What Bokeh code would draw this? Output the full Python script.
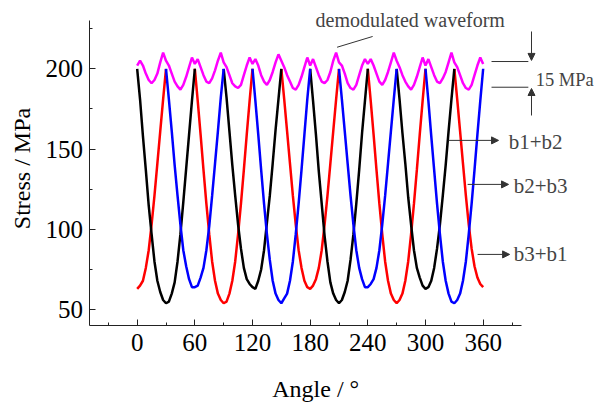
import math
from bokeh.plotting import figure
from bokeh.models import Arrow, NormalHead, Label, FixedTicker
from bokeh.embed import file_html
from bokeh.resources import INLINE

# ---------------- data ----------------
STEP = 3  # degrees between readings

# each curve = list of V-shaped windows: (start angle, stress readings every 3 deg)
BLACK_STARTS = [0, 90, 180, 270]
BLACK_VALUES = [
    [200, 181, 158, 137, 115, 97, 80, 68, 61, 56, 54, 55, 60, 67, 80, 97, 117, 138, 159, 180, 200],
    [200, 182, 161, 140, 121, 103, 88, 76, 69, 66, 64, 63, 68, 75, 87, 104, 121, 141, 162, 181, 200],
    [200, 180, 159, 136, 116, 96, 80, 67, 60, 56, 54, 56, 61, 68, 81, 97, 116, 137, 160, 180, 200],
    [200, 181, 160, 141, 120, 103, 87, 76, 70, 65, 63, 64, 68, 76, 88, 103, 121, 140, 161, 181, 200],
]
BLUE_STARTS = [30, 120, 210, 300]
BLUE_VALUES = [
    [200, 181, 161, 140, 121, 103, 87, 77, 69, 64, 64, 65, 70, 76, 87, 102, 121, 141, 161, 182, 200],
    [200, 180, 159, 137, 116, 97, 81, 68, 60, 56, 54, 57, 60, 68, 80, 97, 116, 137, 159, 181, 200],
    [200, 181, 161, 141, 121, 103, 87, 76, 69, 64, 64, 66, 69, 76, 87, 103, 121, 141, 161, 181, 200],
    [200, 180, 158, 137, 116, 97, 80, 68, 60, 55, 54, 56, 60, 68, 80, 97, 116, 137, 159, 180, 200],
]
RED_STARTS = [0, 60, 150, 240, 330]
RED_VALUES = [
    [63, 65, 68, 76, 87, 103, 121, 141, 161, 181, 200],
    [200, 180, 159, 137, 116, 97, 80, 68, 60, 56, 54, 55, 60, 68, 80, 97, 116, 137, 159, 180, 200],
    [200, 181, 161, 141, 121, 103, 87, 76, 68, 64, 63, 65, 69, 76, 87, 103, 121, 141, 161, 181, 200],
    [200, 180, 159, 137, 116, 97, 80, 68, 60, 56, 54, 56, 60, 68, 80, 97, 116, 137, 159, 180, 200],
    [200, 181, 161, 141, 121, 103, 88, 77, 70, 66, 64],
]

# demodulated waveform, every 3 deg from 0 to 360
PINK_VALUES = [
    202, 205, 202, 197, 193, 191, 193, 197, 204, 210, 205, 202, 197, 192, 189, 187, 190, 195, 201, 207,
    203, 206, 201, 196, 192, 191, 194, 199, 205, 210, 204, 201, 196, 191, 189, 188, 190, 196, 202, 207,
    203, 206, 202, 196, 192, 190, 193, 198, 204, 209, 205, 201, 196, 192, 188, 187, 190, 195, 201, 207,
    202, 206, 201, 196, 192, 191, 193, 198, 205, 210, 204, 202, 197, 191, 188, 187, 190, 196, 202, 206,
    203, 206, 202, 197, 192, 190, 193, 198, 204, 210, 205, 201, 196, 192, 189, 187, 190, 195, 201, 207,
    202, 206, 201, 196, 192, 191, 194, 198, 204, 210, 204, 201, 196, 191, 188, 187, 190, 196, 202, 207,
    203,
]

X_TICKS = [0, 60, 120, 180, 240, 300, 360]
X_MINOR = [-30, 30, 90, 150, 210, 270, 330, 390]
Y_TICKS = [50, 100, 150, 200]
Y_MINOR = [75, 125, 175, 225]
X_AXIS_SPAN = (-50, 400)
Y_AXIS_SPAN = (40, 230)

FONT = "Liberation Serif"


def build(starts, values):
    xs, ys = [], []
    for s, vals in zip(starts, values):
        if xs:
            xs.append(float("nan"))
            ys.append(float("nan"))
        for i, v in enumerate(vals):
            xs.append(s + STEP * i)
            ys.append(v)
    return xs, ys


# the frame covers the whole canvas; axes are pinned at the corner of the data area
p = figure(width=598, height=402, x_range=(-142.2, 480), y_range=(-7.8, 242.5),
           output_backend="svg", toolbar_location=None,
           min_border_left=0, min_border_right=0, min_border_top=0, min_border_bottom=0)
p.outline_line_color = None
p.xgrid.visible = False
p.ygrid.visible = False
p.background_fill_color = "white"
p.border_fill_color = "white"

for starts, values, color in [(RED_STARTS, RED_VALUES, "#ff0000"),
                              (BLACK_STARTS, BLACK_VALUES, "#000000"),
                              (BLUE_STARTS, BLUE_VALUES, "#0000ff")]:
    xs, ys = build(starts, values)
    p.line(xs, ys, line_color=color, line_width=2.5)

pink_x = [STEP * i for i in range(len(PINK_VALUES))]
p.line(pink_x, PINK_VALUES, line_color="#ff00ff", line_width=2.5)

# axes
for ax in (p.xaxis[0], p.yaxis[0]):
    ax.axis_line_color = "#222222"
    ax.major_tick_line_color = "#222222"
    ax.minor_tick_line_color = "#222222"
    ax.major_tick_in = 6
    ax.major_tick_out = 0
    ax.minor_tick_in = 3
    ax.minor_tick_out = 0
    ax.major_label_text_font = FONT
    ax.major_label_text_font_size = "25px"
    ax.major_label_text_color = "#000000"

p.xaxis.fixed_location = Y_AXIS_SPAN[0]
p.yaxis.fixed_location = X_AXIS_SPAN[0]
p.xaxis.bounds = X_AXIS_SPAN
p.yaxis.bounds = Y_AXIS_SPAN
p.xaxis.ticker = FixedTicker(ticks=X_TICKS, minor_ticks=X_MINOR)
p.yaxis.ticker = FixedTicker(ticks=Y_TICKS, minor_ticks=Y_MINOR)
p.xaxis.major_label_standoff = 8
p.yaxis.major_label_standoff = 6

# axis titles
p.add_layout(Label(x=185.8, y=0.6, text="Angle / °", text_font=FONT, text_font_size="24px",
                   text_align="center", text_baseline="middle", text_color="#000000"))
p.add_layout(Label(x=-119.4, y=137.9, text="Stress / MPa", text_font=FONT, text_font_size="24px",
                   text_align="center", text_baseline="middle", angle=math.pi / 2,
                   text_color="#000000"))

# annotations
ann = "#333333"


def head():
    return NormalHead(size=7, fill_color=ann, line_color=ann, line_width=1)


p.add_layout(Arrow(end=None, x_start=208, y_start=213.4, x_end=245, y_end=220.1,
                   line_color=ann, line_width=1))
p.add_layout(Label(x=185.6, y=230.1, text="demodulated waveform", text_font=FONT,
                   text_font_size="20px", text_baseline="middle", text_align="left"))

p.add_layout(Arrow(end=None, x_start=368.7, y_start=204.5, x_end=407, y_end=204.5,
                   line_color=ann, line_width=1))
p.add_layout(Arrow(end=None, x_start=368.7, y_start=188.5, x_end=407, y_end=188.5,
                   line_color=ann, line_width=1))
p.add_layout(Arrow(end=head(), x_start=410.3, y_start=223.2, x_end=410.3, y_end=205.2,
                   line_color=ann, line_width=1))
p.add_layout(Arrow(end=head(), x_start=410.3, y_start=170.9, x_end=410.3, y_end=187.7,
                   line_color=ann, line_width=1))
p.add_layout(Label(x=414.6, y=193.3, text="15 MPa", text_font=FONT,
                   text_font_size="18.5px", text_baseline="middle", text_align="left"))

for xs_, xe_, yv, tx, ty, txt in [(324, 376, 155.4, 386.5, 154.1, "b1+b2"),
                                   (343.8, 386.4, 128.0, 391.7, 127.3, "b2+b3"),
                                   (354.2, 387.5, 84.4, 391.7, 84.4, "b3+b1")]:
    p.add_layout(Arrow(end=head(), x_start=xs_, y_start=yv, x_end=xe_, y_end=yv,
                       line_color=ann, line_width=1))
    p.add_layout(Label(x=tx, y=ty, text=txt, text_font=FONT, text_font_size="21px",
                       text_baseline="middle", text_align="left"))

open("out.html", "w").write(file_html(p, INLINE))
